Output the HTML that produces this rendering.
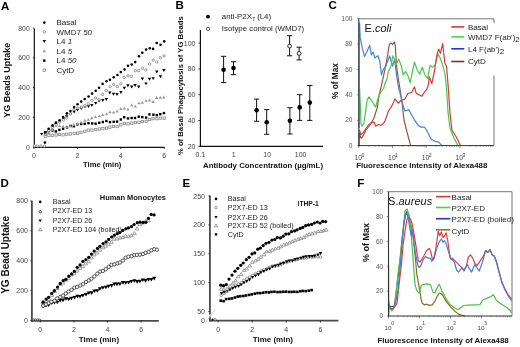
<!DOCTYPE html>
<html><head><meta charset="utf-8"><style>
html,body{margin:0;padding:0;background:#fff;width:520px;height:347px;overflow:hidden}
svg{display:block;filter:blur(0.3px)}
text{font-family:"Liberation Sans", sans-serif}
</style></head><body>
<svg width="520" height="347" viewBox="0 0 520 347">
<rect width="520" height="347" fill="#fff"/>
<text x="1.1" y="9.7" font-size="11.5" text-anchor="start" font-weight="bold" fill="#000"  style="">A</text><line x1="34.3" y1="28.5" x2="34.3" y2="147.5" stroke="#111" stroke-width="1.2"/><line x1="33.4" y1="147.4" x2="164.5" y2="147.4" stroke="#111" stroke-width="1.3"/><line x1="32.8" y1="147.0" x2="34.3" y2="147.0" stroke="#111" stroke-width="0.8"/><text x="29.7" y="149.5" font-size="6.8" text-anchor="end" font-weight="normal" fill="#444"  style="">0</text><line x1="32.8" y1="117.3" x2="34.3" y2="117.3" stroke="#111" stroke-width="0.8"/><text x="29.7" y="119.8" font-size="6.8" text-anchor="end" font-weight="normal" fill="#444"  style="">200</text><line x1="32.8" y1="87.6" x2="34.3" y2="87.6" stroke="#111" stroke-width="0.8"/><text x="29.7" y="90.1" font-size="6.8" text-anchor="end" font-weight="normal" fill="#444"  style="">400</text><line x1="32.8" y1="57.900000000000006" x2="34.3" y2="57.900000000000006" stroke="#111" stroke-width="0.8"/><text x="29.7" y="60.400000000000006" font-size="6.8" text-anchor="end" font-weight="normal" fill="#444"  style="">600</text><line x1="32.8" y1="28.200000000000003" x2="34.3" y2="28.200000000000003" stroke="#111" stroke-width="0.8"/><text x="29.7" y="30.700000000000003" font-size="6.8" text-anchor="end" font-weight="normal" fill="#444"  style="">800</text><line x1="34.0" y1="147" x2="34.0" y2="149" stroke="#111" stroke-width="0.8"/><text x="34.0" y="158" font-size="7" text-anchor="middle" font-weight="normal" fill="#444"  style="">0</text><line x1="77.4" y1="147" x2="77.4" y2="149" stroke="#111" stroke-width="0.8"/><text x="77.4" y="158" font-size="7" text-anchor="middle" font-weight="normal" fill="#444"  style="">2</text><line x1="120.8" y1="147" x2="120.8" y2="149" stroke="#111" stroke-width="0.8"/><text x="120.8" y="158" font-size="7" text-anchor="middle" font-weight="normal" fill="#444"  style="">4</text><line x1="164.2" y1="147" x2="164.2" y2="149" stroke="#111" stroke-width="0.8"/><text x="164.2" y="158" font-size="7" text-anchor="middle" font-weight="normal" fill="#444"  style="">6</text><text x="83.0" y="167.3" font-size="8" text-anchor="start" font-weight="bold" fill="#111" textLength="38.4" lengthAdjust="spacingAndGlyphs" style="">Time (min)</text><text transform="translate(10.1,80.3) rotate(-90)" font-size="9" font-weight="bold" text-anchor="middle" fill="#111">YG Beads Uptake</text><circle cx="44.3" cy="22.6" r="1.30" fill="#000"/><text x="56.5" y="25.400000000000002" font-size="8" text-anchor="start" font-weight="normal" fill="#222"  style="">Basal</text><circle cx="44.3" cy="31.8" r="1.20" fill="#fff" stroke="#777" stroke-width="0.75"/><text x="56.5" y="34.6" font-size="8" fill="#222">WMD7 <tspan font-style="italic">50</tspan></text><polygon points="42.6,40.1 46.0,40.1 44.3,43.0" fill="#000"/><text x="56.5" y="44.099999999999994" font-size="8" fill="#222">L4 <tspan font-style="italic">1</tspan></text><polygon points="42.6,52.2 46.0,52.2 44.3,49.3" fill="#999"/><text x="56.5" y="53.8" font-size="8" fill="#222">L4 <tspan font-style="italic">5</tspan></text><rect x="43.1" y="59.4" width="2.4" height="2.4" fill="#000"/><text x="56.5" y="63.4" font-size="8" fill="#222">L4 <tspan font-style="italic">50</tspan></text><rect x="43.1" y="69.0" width="2.3" height="2.3" fill="#fff" stroke="#888" stroke-width="0.8"/><text x="56.5" y="73.0" font-size="8" text-anchor="start" font-weight="normal" fill="#222"  style="">CytD</text><rect x="44.1" y="135.4" width="2.3" height="2.3" fill="#fff" stroke="#888" stroke-width="0.8"/><rect x="47.7" y="134.1" width="2.3" height="2.3" fill="#fff" stroke="#888" stroke-width="0.8"/><rect x="51.1" y="134.2" width="2.3" height="2.3" fill="#fff" stroke="#888" stroke-width="0.8"/><rect x="55.0" y="133.8" width="2.3" height="2.3" fill="#fff" stroke="#888" stroke-width="0.8"/><rect x="58.3" y="133.3" width="2.3" height="2.3" fill="#fff" stroke="#888" stroke-width="0.8"/><rect x="62.0" y="133.7" width="2.3" height="2.3" fill="#fff" stroke="#888" stroke-width="0.8"/><rect x="65.6" y="133.0" width="2.3" height="2.3" fill="#fff" stroke="#888" stroke-width="0.8"/><rect x="69.1" y="132.8" width="2.3" height="2.3" fill="#fff" stroke="#888" stroke-width="0.8"/><rect x="73.0" y="132.2" width="2.3" height="2.3" fill="#fff" stroke="#888" stroke-width="0.8"/><rect x="76.5" y="132.1" width="2.3" height="2.3" fill="#fff" stroke="#888" stroke-width="0.8"/><rect x="79.9" y="131.2" width="2.3" height="2.3" fill="#fff" stroke="#888" stroke-width="0.8"/><rect x="83.7" y="130.2" width="2.3" height="2.3" fill="#fff" stroke="#888" stroke-width="0.8"/><rect x="87.1" y="129.0" width="2.3" height="2.3" fill="#fff" stroke="#888" stroke-width="0.8"/><rect x="90.8" y="128.9" width="2.3" height="2.3" fill="#fff" stroke="#888" stroke-width="0.8"/><rect x="94.6" y="128.4" width="2.3" height="2.3" fill="#fff" stroke="#888" stroke-width="0.8"/><rect x="98.2" y="127.9" width="2.3" height="2.3" fill="#fff" stroke="#888" stroke-width="0.8"/><rect x="101.8" y="127.4" width="2.3" height="2.3" fill="#fff" stroke="#888" stroke-width="0.8"/><rect x="105.4" y="127.0" width="2.3" height="2.3" fill="#fff" stroke="#888" stroke-width="0.8"/><rect x="108.7" y="126.0" width="2.3" height="2.3" fill="#fff" stroke="#888" stroke-width="0.8"/><rect x="112.3" y="125.2" width="2.3" height="2.3" fill="#fff" stroke="#888" stroke-width="0.8"/><rect x="116.0" y="125.4" width="2.3" height="2.3" fill="#fff" stroke="#888" stroke-width="0.8"/><rect x="119.6" y="123.6" width="2.3" height="2.3" fill="#fff" stroke="#888" stroke-width="0.8"/><rect x="123.2" y="122.3" width="2.3" height="2.3" fill="#fff" stroke="#888" stroke-width="0.8"/><rect x="126.9" y="122.7" width="2.3" height="2.3" fill="#fff" stroke="#888" stroke-width="0.8"/><rect x="130.6" y="122.0" width="2.3" height="2.3" fill="#fff" stroke="#888" stroke-width="0.8"/><rect x="134.2" y="121.4" width="2.3" height="2.3" fill="#fff" stroke="#888" stroke-width="0.8"/><rect x="137.8" y="121.2" width="2.3" height="2.3" fill="#fff" stroke="#888" stroke-width="0.8"/><rect x="141.1" y="120.4" width="2.3" height="2.3" fill="#fff" stroke="#888" stroke-width="0.8"/><rect x="145.0" y="120.2" width="2.3" height="2.3" fill="#fff" stroke="#888" stroke-width="0.8"/><rect x="148.5" y="118.3" width="2.3" height="2.3" fill="#fff" stroke="#888" stroke-width="0.8"/><rect x="151.9" y="117.5" width="2.3" height="2.3" fill="#fff" stroke="#888" stroke-width="0.8"/><rect x="155.7" y="117.5" width="2.3" height="2.3" fill="#fff" stroke="#888" stroke-width="0.8"/><rect x="159.1" y="117.0" width="2.3" height="2.3" fill="#fff" stroke="#888" stroke-width="0.8"/><rect x="163.0" y="117.0" width="2.3" height="2.3" fill="#fff" stroke="#888" stroke-width="0.8"/><rect x="44.1" y="132.1" width="2.4" height="2.4" fill="#000"/><rect x="47.5" y="129.9" width="2.4" height="2.4" fill="#000"/><rect x="51.3" y="129.3" width="2.4" height="2.4" fill="#000"/><rect x="54.6" y="130.2" width="2.4" height="2.4" fill="#000"/><rect x="58.2" y="128.7" width="2.4" height="2.4" fill="#000"/><rect x="61.9" y="127.5" width="2.4" height="2.4" fill="#000"/><rect x="65.8" y="126.2" width="2.4" height="2.4" fill="#000"/><rect x="69.4" y="124.7" width="2.4" height="2.4" fill="#000"/><rect x="72.6" y="125.1" width="2.4" height="2.4" fill="#000"/><rect x="76.2" y="123.3" width="2.4" height="2.4" fill="#000"/><rect x="80.0" y="122.8" width="2.4" height="2.4" fill="#000"/><rect x="83.5" y="122.7" width="2.4" height="2.4" fill="#000"/><rect x="87.3" y="122.0" width="2.4" height="2.4" fill="#000"/><rect x="91.0" y="122.2" width="2.4" height="2.4" fill="#000"/><rect x="94.4" y="122.5" width="2.4" height="2.4" fill="#000"/><rect x="98.0" y="121.6" width="2.4" height="2.4" fill="#000"/><rect x="101.6" y="120.8" width="2.4" height="2.4" fill="#000"/><rect x="105.2" y="119.8" width="2.4" height="2.4" fill="#000"/><rect x="108.8" y="120.9" width="2.4" height="2.4" fill="#000"/><rect x="112.5" y="120.6" width="2.4" height="2.4" fill="#000"/><rect x="115.9" y="120.4" width="2.4" height="2.4" fill="#000"/><rect x="119.6" y="118.3" width="2.4" height="2.4" fill="#000"/><rect x="123.0" y="116.0" width="2.4" height="2.4" fill="#000"/><rect x="126.8" y="117.2" width="2.4" height="2.4" fill="#000"/><rect x="130.4" y="116.8" width="2.4" height="2.4" fill="#000"/><rect x="133.8" y="116.8" width="2.4" height="2.4" fill="#000"/><rect x="137.6" y="115.5" width="2.4" height="2.4" fill="#000"/><rect x="141.1" y="115.9" width="2.4" height="2.4" fill="#000"/><rect x="144.9" y="116.4" width="2.4" height="2.4" fill="#000"/><rect x="148.2" y="113.2" width="2.4" height="2.4" fill="#000"/><rect x="152.2" y="113.5" width="2.4" height="2.4" fill="#000"/><rect x="155.6" y="113.9" width="2.4" height="2.4" fill="#000"/><rect x="159.1" y="113.0" width="2.4" height="2.4" fill="#000"/><rect x="162.7" y="111.9" width="2.4" height="2.4" fill="#000"/><polygon points="43.5,136.0 46.9,136.0 45.2,133.1" fill="#999"/><polygon points="47.1,133.9 50.5,133.9 48.8,131.0" fill="#999"/><polygon points="50.5,131.1 53.9,131.1 52.2,128.2" fill="#999"/><polygon points="54.4,126.5 57.8,126.5 56.1,123.6" fill="#999"/><polygon points="57.8,126.9 61.2,126.9 59.5,124.0" fill="#999"/><polygon points="61.4,127.7 64.8,127.7 63.1,124.8" fill="#999"/><polygon points="65.1,127.9 68.5,127.9 66.8,125.0" fill="#999"/><polygon points="68.5,127.3 71.9,127.3 70.2,124.4" fill="#999"/><polygon points="72.2,126.0 75.6,126.0 73.9,123.1" fill="#999"/><polygon points="75.9,125.1 79.3,125.1 77.6,122.2" fill="#999"/><polygon points="79.4,123.5 82.8,123.5 81.1,120.6" fill="#999"/><polygon points="83.2,121.7 86.6,121.7 84.9,118.8" fill="#999"/><polygon points="86.7,120.8 90.1,120.8 88.4,117.9" fill="#999"/><polygon points="90.1,119.2 93.5,119.2 91.8,116.3" fill="#999"/><polygon points="93.8,118.1 97.2,118.1 95.5,115.3" fill="#999"/><polygon points="97.6,117.3 101.0,117.3 99.3,114.5" fill="#999"/><polygon points="101.0,116.1 104.4,116.1 102.7,113.2" fill="#999"/><polygon points="104.8,115.3 108.2,115.3 106.5,112.4" fill="#999"/><polygon points="108.2,113.2 111.6,113.2 109.9,110.3" fill="#999"/><polygon points="111.8,113.6 115.2,113.6 113.5,110.7" fill="#999"/><polygon points="115.4,112.4 118.8,112.4 117.1,109.5" fill="#999"/><polygon points="119.1,109.9 122.5,109.9 120.8,107.0" fill="#999"/><polygon points="122.7,109.5 126.1,109.5 124.4,106.7" fill="#999"/><polygon points="126.2,110.6 129.6,110.6 127.9,107.7" fill="#999"/><polygon points="130.1,106.5 133.5,106.5 131.8,103.6" fill="#999"/><polygon points="133.7,107.6 137.1,107.6 135.4,104.7" fill="#999"/><polygon points="137.3,104.3 140.7,104.3 139.0,101.4" fill="#999"/><polygon points="140.6,103.8 144.0,103.8 142.3,100.9" fill="#999"/><polygon points="144.4,101.8 147.8,101.8 146.1,99.0" fill="#999"/><polygon points="147.9,101.4 151.3,101.4 149.6,98.5" fill="#999"/><polygon points="151.4,102.9 154.8,102.9 153.1,100.0" fill="#999"/><polygon points="154.9,98.9 158.3,98.9 156.6,96.1" fill="#999"/><polygon points="158.6,98.7 162.0,98.7 160.3,95.8" fill="#999"/><polygon points="162.1,98.5 165.5,98.5 163.8,95.6" fill="#999"/><polygon points="40.0,132.9 43.4,132.9 41.7,135.8" fill="#000"/><polygon points="43.7,131.1 47.1,131.1 45.4,134.0" fill="#000"/><polygon points="47.1,129.3 50.5,129.3 48.8,132.2" fill="#000"/><polygon points="50.8,126.3 54.2,126.3 52.5,129.1" fill="#000"/><polygon points="54.2,123.1 57.6,123.1 55.9,126.0" fill="#000"/><polygon points="57.9,120.3 61.3,120.3 59.6,123.2" fill="#000"/><polygon points="61.7,117.5 65.1,117.5 63.4,120.4" fill="#000"/><polygon points="65.0,115.2 68.4,115.2 66.7,118.1" fill="#000"/><polygon points="68.8,112.7 72.2,112.7 70.5,115.5" fill="#000"/><polygon points="72.4,110.6 75.8,110.6 74.1,113.5" fill="#000"/><polygon points="75.8,108.7 79.2,108.7 77.5,111.6" fill="#000"/><polygon points="79.6,107.1 83.0,107.1 81.3,110.0" fill="#000"/><polygon points="83.2,105.4 86.6,105.4 84.9,108.3" fill="#000"/><polygon points="86.8,105.2 90.2,105.2 88.5,108.1" fill="#000"/><polygon points="90.1,104.1 93.5,104.1 91.8,107.0" fill="#000"/><polygon points="94.0,101.9 97.4,101.9 95.7,104.8" fill="#000"/><polygon points="97.4,99.7 100.8,99.7 99.1,102.6" fill="#000"/><polygon points="101.1,99.0 104.5,99.0 102.8,101.9" fill="#000"/><polygon points="104.7,98.0 108.1,98.0 106.4,100.9" fill="#000"/><polygon points="108.1,91.6 111.5,91.6 109.8,94.5" fill="#000"/><polygon points="111.8,92.8 115.2,92.8 113.5,95.7" fill="#000"/><polygon points="115.3,93.0 118.7,93.0 117.0,95.9" fill="#000"/><polygon points="119.2,91.0 122.6,91.0 120.9,93.9" fill="#000"/><polygon points="122.7,86.8 126.1,86.8 124.4,89.7" fill="#000"/><polygon points="126.2,84.3 129.6,84.3 127.9,87.2" fill="#000"/><polygon points="130.0,85.6 133.4,85.6 131.7,88.5" fill="#000"/><polygon points="133.4,84.0 136.8,84.0 135.1,86.9" fill="#000"/><polygon points="137.0,85.6 140.4,85.6 138.7,88.5" fill="#000"/><polygon points="140.7,77.5 144.1,77.5 142.4,80.4" fill="#000"/><polygon points="144.3,82.4 147.7,82.4 146.0,85.3" fill="#000"/><polygon points="147.8,77.8 151.2,77.8 149.5,80.7" fill="#000"/><polygon points="151.5,77.2 154.9,77.2 153.2,80.0" fill="#000"/><polygon points="155.1,70.6 158.5,70.6 156.8,73.5" fill="#000"/><polygon points="158.7,75.3 162.1,75.3 160.4,78.2" fill="#000"/><polygon points="162.2,69.1 165.6,69.1 163.9,71.9" fill="#000"/><circle cx="45.3" cy="133.8" r="1.20" fill="#fff" stroke="#777" stroke-width="0.75"/><circle cx="48.9" cy="130.4" r="1.20" fill="#fff" stroke="#777" stroke-width="0.75"/><circle cx="52.3" cy="127.4" r="1.20" fill="#fff" stroke="#777" stroke-width="0.75"/><circle cx="56.1" cy="124.9" r="1.20" fill="#fff" stroke="#777" stroke-width="0.75"/><circle cx="59.6" cy="121.9" r="1.20" fill="#fff" stroke="#777" stroke-width="0.75"/><circle cx="63.4" cy="119.9" r="1.20" fill="#fff" stroke="#777" stroke-width="0.75"/><circle cx="66.7" cy="118.0" r="1.20" fill="#fff" stroke="#777" stroke-width="0.75"/><circle cx="70.5" cy="113.9" r="1.20" fill="#fff" stroke="#777" stroke-width="0.75"/><circle cx="74.0" cy="109.3" r="1.20" fill="#fff" stroke="#777" stroke-width="0.75"/><circle cx="77.7" cy="107.9" r="1.20" fill="#fff" stroke="#777" stroke-width="0.75"/><circle cx="81.4" cy="107.0" r="1.20" fill="#fff" stroke="#777" stroke-width="0.75"/><circle cx="84.9" cy="105.6" r="1.20" fill="#fff" stroke="#777" stroke-width="0.75"/><circle cx="88.4" cy="103.7" r="1.20" fill="#fff" stroke="#777" stroke-width="0.75"/><circle cx="92.0" cy="100.4" r="1.20" fill="#fff" stroke="#777" stroke-width="0.75"/><circle cx="95.5" cy="97.9" r="1.20" fill="#fff" stroke="#777" stroke-width="0.75"/><circle cx="99.0" cy="99.4" r="1.20" fill="#fff" stroke="#777" stroke-width="0.75"/><circle cx="102.6" cy="94.4" r="1.20" fill="#fff" stroke="#777" stroke-width="0.75"/><circle cx="106.3" cy="90.5" r="1.20" fill="#fff" stroke="#777" stroke-width="0.75"/><circle cx="110.1" cy="86.7" r="1.20" fill="#fff" stroke="#777" stroke-width="0.75"/><circle cx="113.7" cy="84.5" r="1.20" fill="#fff" stroke="#777" stroke-width="0.75"/><circle cx="117.3" cy="86.6" r="1.20" fill="#fff" stroke="#777" stroke-width="0.75"/><circle cx="120.8" cy="83.8" r="1.20" fill="#fff" stroke="#777" stroke-width="0.75"/><circle cx="124.2" cy="77.5" r="1.20" fill="#fff" stroke="#777" stroke-width="0.75"/><circle cx="128.0" cy="75.7" r="1.20" fill="#fff" stroke="#777" stroke-width="0.75"/><circle cx="131.4" cy="76.4" r="1.20" fill="#fff" stroke="#777" stroke-width="0.75"/><circle cx="135.4" cy="70.7" r="1.20" fill="#fff" stroke="#777" stroke-width="0.75"/><circle cx="138.7" cy="70.6" r="1.20" fill="#fff" stroke="#777" stroke-width="0.75"/><circle cx="142.5" cy="68.4" r="1.20" fill="#fff" stroke="#777" stroke-width="0.75"/><circle cx="145.9" cy="69.9" r="1.20" fill="#fff" stroke="#777" stroke-width="0.75"/><circle cx="149.6" cy="63.9" r="1.20" fill="#fff" stroke="#777" stroke-width="0.75"/><circle cx="153.2" cy="60.1" r="1.20" fill="#fff" stroke="#777" stroke-width="0.75"/><circle cx="156.8" cy="62.0" r="1.20" fill="#fff" stroke="#777" stroke-width="0.75"/><circle cx="160.4" cy="57.6" r="1.20" fill="#fff" stroke="#777" stroke-width="0.75"/><circle cx="164.0" cy="55.9" r="1.20" fill="#fff" stroke="#777" stroke-width="0.75"/><circle cx="45.2" cy="132.4" r="1.30" fill="#000"/><circle cx="48.7" cy="128.8" r="1.30" fill="#000"/><circle cx="52.5" cy="125.4" r="1.30" fill="#000"/><circle cx="56.0" cy="122.5" r="1.30" fill="#000"/><circle cx="59.7" cy="120.2" r="1.30" fill="#000"/><circle cx="63.1" cy="117.1" r="1.30" fill="#000"/><circle cx="66.9" cy="113.4" r="1.30" fill="#000"/><circle cx="70.4" cy="111.0" r="1.30" fill="#000"/><circle cx="74.1" cy="107.1" r="1.30" fill="#000"/><circle cx="77.5" cy="104.2" r="1.30" fill="#000"/><circle cx="81.2" cy="101.6" r="1.30" fill="#000"/><circle cx="84.7" cy="99.0" r="1.30" fill="#000"/><circle cx="88.6" cy="96.5" r="1.30" fill="#000"/><circle cx="92.1" cy="93.6" r="1.30" fill="#000"/><circle cx="95.7" cy="90.8" r="1.30" fill="#000"/><circle cx="99.1" cy="87.8" r="1.30" fill="#000"/><circle cx="102.6" cy="83.9" r="1.30" fill="#000"/><circle cx="106.4" cy="81.3" r="1.30" fill="#000"/><circle cx="109.9" cy="79.7" r="1.30" fill="#000"/><circle cx="113.7" cy="77.2" r="1.30" fill="#000"/><circle cx="117.4" cy="75.0" r="1.30" fill="#000"/><circle cx="120.8" cy="72.1" r="1.30" fill="#000"/><circle cx="124.5" cy="69.5" r="1.30" fill="#000"/><circle cx="128.0" cy="65.8" r="1.30" fill="#000"/><circle cx="131.7" cy="64.5" r="1.30" fill="#000"/><circle cx="135.2" cy="62.1" r="1.30" fill="#000"/><circle cx="139.0" cy="56.2" r="1.30" fill="#000"/><circle cx="142.3" cy="52.8" r="1.30" fill="#000"/><circle cx="146.1" cy="49.6" r="1.30" fill="#000"/><circle cx="149.8" cy="48.3" r="1.30" fill="#000"/><circle cx="153.1" cy="48.9" r="1.30" fill="#000"/><circle cx="156.7" cy="43.0" r="1.30" fill="#000"/><circle cx="160.5" cy="44.8" r="1.30" fill="#000"/><circle cx="164.2" cy="41.4" r="1.30" fill="#000"/><circle cx="34.6" cy="146.0" r="1.20" fill="#fff" stroke="#777" stroke-width="0.75"/><circle cx="37.4" cy="146.0" r="1.20" fill="#fff" stroke="#777" stroke-width="0.75"/><circle cx="40.9" cy="146.0" r="1.20" fill="#fff" stroke="#777" stroke-width="0.75"/><circle cx="44.5" cy="146.0" r="1.20" fill="#fff" stroke="#777" stroke-width="0.75"/><circle cx="44.9" cy="142.6" r="1.30" fill="#000"/><text x="175.4" y="9.0" font-size="11.5" text-anchor="start" font-weight="bold" fill="#000"  style="">B</text><line x1="200.4" y1="30" x2="200.4" y2="146.9" stroke="#111" stroke-width="1.2"/><line x1="199.8" y1="146.3" x2="323" y2="146.3" stroke="#111" stroke-width="1.2"/><line x1="198.4" y1="146.3" x2="200.4" y2="146.3" stroke="#111" stroke-width="0.8"/><text x="195.5" y="148.8" font-size="7" text-anchor="end" font-weight="normal" fill="#444"  style="">20</text><line x1="198.4" y1="120.50000000000001" x2="200.4" y2="120.50000000000001" stroke="#111" stroke-width="0.8"/><text x="195.5" y="123.00000000000001" font-size="7" text-anchor="end" font-weight="normal" fill="#444"  style="">40</text><line x1="198.4" y1="94.70000000000002" x2="200.4" y2="94.70000000000002" stroke="#111" stroke-width="0.8"/><text x="195.5" y="97.20000000000002" font-size="7" text-anchor="end" font-weight="normal" fill="#444"  style="">60</text><line x1="198.4" y1="68.9" x2="200.4" y2="68.9" stroke="#111" stroke-width="0.8"/><text x="195.5" y="71.4" font-size="7" text-anchor="end" font-weight="normal" fill="#444"  style="">80</text><line x1="198.4" y1="43.10000000000001" x2="200.4" y2="43.10000000000001" stroke="#111" stroke-width="0.8"/><text x="195.5" y="45.60000000000001" font-size="7" text-anchor="end" font-weight="normal" fill="#444"  style="">100</text><text x="200.4" y="157.2" font-size="7" text-anchor="middle" font-weight="normal" fill="#444"  style="">0.1</text><text x="233.8" y="157.2" font-size="7" text-anchor="middle" font-weight="normal" fill="#444"  style="">1</text><text x="267.2" y="157.2" font-size="7" text-anchor="middle" font-weight="normal" fill="#444"  style="">10</text><text x="300.6" y="157.2" font-size="7" text-anchor="middle" font-weight="normal" fill="#444"  style="">100</text><text x="203" y="168.4" font-size="8" text-anchor="start" font-weight="bold" fill="#111" textLength="120" lengthAdjust="spacingAndGlyphs" style="">Antibody Concentration (µg/mL)</text><text transform="translate(182.6,85.7) rotate(-90)" font-size="7.7" font-weight="bold" text-anchor="middle" fill="#111">% of Basal Phagocytosis of YG Beads</text><circle cx="208.0" cy="16.6" r="1.95" fill="#000"/><text x="221.8" y="18.9" font-size="7.85" fill="#222">anti-P2X<tspan font-size="5.5" dy="2.2">7</tspan><tspan dy="-2.2"> (L4)</tspan></text><circle cx="208.0" cy="28.9" r="1.69" fill="#fff" stroke="#222" stroke-width="0.75"/><text x="221.8" y="31.3" font-size="7.85" text-anchor="start" font-weight="normal" fill="#222"  style="">Isotype control (WMD7)</text><line x1="223.6" y1="56.3" x2="223.6" y2="82.6" stroke="#111" stroke-width="1.0"/><line x1="221.0" y1="56.3" x2="226.2" y2="56.3" stroke="#111" stroke-width="1.0"/><line x1="221.0" y1="82.6" x2="226.2" y2="82.6" stroke="#111" stroke-width="1.0"/><circle cx="223.6" cy="69.7" r="2.3" fill="#000"/><line x1="233.5" y1="61.7" x2="233.5" y2="74.7" stroke="#111" stroke-width="1.0"/><line x1="230.9" y1="61.7" x2="236.1" y2="61.7" stroke="#111" stroke-width="1.0"/><line x1="230.9" y1="74.7" x2="236.1" y2="74.7" stroke="#111" stroke-width="1.0"/><circle cx="233.5" cy="68.1" r="2.3" fill="#000"/><line x1="256.6" y1="99.1" x2="256.6" y2="121.3" stroke="#111" stroke-width="1.0"/><line x1="254.00000000000003" y1="99.1" x2="259.20000000000005" y2="99.1" stroke="#111" stroke-width="1.0"/><line x1="254.00000000000003" y1="121.3" x2="259.20000000000005" y2="121.3" stroke="#111" stroke-width="1.0"/><circle cx="256.6" cy="110.2" r="2.3" fill="#000"/><line x1="266.7" y1="109.6" x2="266.7" y2="134.3" stroke="#111" stroke-width="1.0"/><line x1="264.09999999999997" y1="109.6" x2="269.3" y2="109.6" stroke="#111" stroke-width="1.0"/><line x1="264.09999999999997" y1="134.3" x2="269.3" y2="134.3" stroke="#111" stroke-width="1.0"/><circle cx="266.7" cy="122.3" r="2.3" fill="#000"/><line x1="289.9" y1="107.7" x2="289.9" y2="134" stroke="#111" stroke-width="1.0"/><line x1="287.29999999999995" y1="107.7" x2="292.5" y2="107.7" stroke="#111" stroke-width="1.0"/><line x1="287.29999999999995" y1="134" x2="292.5" y2="134" stroke="#111" stroke-width="1.0"/><circle cx="289.9" cy="120.7" r="2.3" fill="#000"/><line x1="299.7" y1="94.7" x2="299.7" y2="120.4" stroke="#111" stroke-width="1.0"/><line x1="297.09999999999997" y1="94.7" x2="302.3" y2="94.7" stroke="#111" stroke-width="1.0"/><line x1="297.09999999999997" y1="120.4" x2="302.3" y2="120.4" stroke="#111" stroke-width="1.0"/><circle cx="299.7" cy="107.4" r="2.3" fill="#000"/><line x1="309.8" y1="85.5" x2="309.8" y2="120.4" stroke="#111" stroke-width="1.0"/><line x1="307.2" y1="85.5" x2="312.40000000000003" y2="85.5" stroke="#111" stroke-width="1.0"/><line x1="307.2" y1="120.4" x2="312.40000000000003" y2="120.4" stroke="#111" stroke-width="1.0"/><circle cx="309.8" cy="102.6" r="2.3" fill="#000"/><line x1="289.6" y1="35.7" x2="289.6" y2="55.8" stroke="#111" stroke-width="1.0"/><line x1="287.0" y1="35.7" x2="292.20000000000005" y2="35.7" stroke="#111" stroke-width="1.0"/><line x1="287.0" y1="55.8" x2="292.20000000000005" y2="55.8" stroke="#111" stroke-width="1.0"/><circle cx="289.6" cy="46.1" r="1.9" fill="#fff" stroke="#111" stroke-width="0.9"/><line x1="299.1" y1="47.2" x2="299.1" y2="59.9" stroke="#111" stroke-width="1.0"/><line x1="296.5" y1="47.2" x2="301.70000000000005" y2="47.2" stroke="#111" stroke-width="1.0"/><line x1="296.5" y1="59.9" x2="301.70000000000005" y2="59.9" stroke="#111" stroke-width="1.0"/><circle cx="299.1" cy="53.5" r="1.9" fill="#fff" stroke="#111" stroke-width="0.9"/><text x="328.4" y="9.1" font-size="11.5" text-anchor="start" font-weight="bold" fill="#000"  style="">C</text><line x1="358.8" y1="18.8" x2="494" y2="18.8" stroke="#666" stroke-width="0.9"/><line x1="494" y1="18.8" x2="494" y2="23.4" stroke="#666" stroke-width="0.9"/><line x1="357" y1="145.6" x2="358.8" y2="145.6" stroke="#666" stroke-width="0.7"/><text x="352.4" y="147.79999999999998" font-size="6.5" text-anchor="end" font-weight="normal" fill="#555"  style="">0</text><line x1="357" y1="120.19999999999999" x2="358.8" y2="120.19999999999999" stroke="#666" stroke-width="0.7"/><text x="352.4" y="122.39999999999999" font-size="6.5" text-anchor="end" font-weight="normal" fill="#555"  style="">20</text><line x1="357" y1="94.8" x2="358.8" y2="94.8" stroke="#666" stroke-width="0.7"/><text x="352.4" y="97.0" font-size="6.5" text-anchor="end" font-weight="normal" fill="#555"  style="">40</text><line x1="357" y1="69.39999999999999" x2="358.8" y2="69.39999999999999" stroke="#666" stroke-width="0.7"/><text x="352.4" y="71.6" font-size="6.5" text-anchor="end" font-weight="normal" fill="#555"  style="">60</text><line x1="357" y1="44.0" x2="358.8" y2="44.0" stroke="#666" stroke-width="0.7"/><text x="352.4" y="46.2" font-size="6.5" text-anchor="end" font-weight="normal" fill="#555"  style="">80</text><line x1="357" y1="18.599999999999994" x2="358.8" y2="18.599999999999994" stroke="#666" stroke-width="0.7"/><text x="352.4" y="20.799999999999994" font-size="6.5" text-anchor="end" font-weight="normal" fill="#555"  style="">100</text><text x="358.2" y="160" font-size="6.8" fill="#444" text-anchor="middle">10</text><text x="361.4" y="156.6" font-size="5.2" fill="#444">0</text><text x="391.9" y="160" font-size="6.8" fill="#444" text-anchor="middle">10</text><text x="395.1" y="156.6" font-size="5.2" fill="#444">1</text><text x="425.6" y="160" font-size="6.8" fill="#444" text-anchor="middle">10</text><text x="428.8" y="156.6" font-size="5.2" fill="#444">2</text><text x="459.3" y="160" font-size="6.8" fill="#444" text-anchor="middle">10</text><text x="462.5" y="156.6" font-size="5.2" fill="#444">3</text><line x1="368.9447108538762" y1="145.6" x2="368.9447108538762" y2="147" stroke="#666" stroke-width="0.5"/><line x1="374.87898628405264" y1="145.6" x2="374.87898628405264" y2="147" stroke="#666" stroke-width="0.5"/><line x1="379.08942170775236" y1="145.6" x2="379.08942170775236" y2="147" stroke="#666" stroke-width="0.5"/><line x1="382.3552891461238" y1="145.6" x2="382.3552891461238" y2="147" stroke="#666" stroke-width="0.5"/><line x1="385.0236971379288" y1="145.6" x2="385.0236971379288" y2="147" stroke="#666" stroke-width="0.5"/><line x1="387.2798039484805" y1="145.6" x2="387.2798039484805" y2="147" stroke="#666" stroke-width="0.5"/><line x1="389.2341325616285" y1="145.6" x2="389.2341325616285" y2="147" stroke="#666" stroke-width="0.5"/><line x1="390.9579725681053" y1="145.6" x2="390.9579725681053" y2="147" stroke="#666" stroke-width="0.5"/><line x1="358.8" y1="145.6" x2="358.8" y2="148" stroke="#666" stroke-width="0.7"/><line x1="402.6447108538762" y1="145.6" x2="402.6447108538762" y2="147" stroke="#666" stroke-width="0.5"/><line x1="408.57898628405263" y1="145.6" x2="408.57898628405263" y2="147" stroke="#666" stroke-width="0.5"/><line x1="412.78942170775235" y1="145.6" x2="412.78942170775235" y2="147" stroke="#666" stroke-width="0.5"/><line x1="416.05528914612387" y1="145.6" x2="416.05528914612387" y2="147" stroke="#666" stroke-width="0.5"/><line x1="418.7236971379288" y1="145.6" x2="418.7236971379288" y2="147" stroke="#666" stroke-width="0.5"/><line x1="420.9798039484805" y1="145.6" x2="420.9798039484805" y2="147" stroke="#666" stroke-width="0.5"/><line x1="422.93413256162853" y1="145.6" x2="422.93413256162853" y2="147" stroke="#666" stroke-width="0.5"/><line x1="424.65797256810527" y1="145.6" x2="424.65797256810527" y2="147" stroke="#666" stroke-width="0.5"/><line x1="392.5" y1="145.6" x2="392.5" y2="148" stroke="#666" stroke-width="0.7"/><line x1="436.34471085387617" y1="145.6" x2="436.34471085387617" y2="147" stroke="#666" stroke-width="0.5"/><line x1="442.2789862840526" y1="145.6" x2="442.2789862840526" y2="147" stroke="#666" stroke-width="0.5"/><line x1="446.48942170775234" y1="145.6" x2="446.48942170775234" y2="147" stroke="#666" stroke-width="0.5"/><line x1="449.75528914612386" y1="145.6" x2="449.75528914612386" y2="147" stroke="#666" stroke-width="0.5"/><line x1="452.4236971379288" y1="145.6" x2="452.4236971379288" y2="147" stroke="#666" stroke-width="0.5"/><line x1="454.67980394848047" y1="145.6" x2="454.67980394848047" y2="147" stroke="#666" stroke-width="0.5"/><line x1="456.6341325616285" y1="145.6" x2="456.6341325616285" y2="147" stroke="#666" stroke-width="0.5"/><line x1="458.35797256810525" y1="145.6" x2="458.35797256810525" y2="147" stroke="#666" stroke-width="0.5"/><line x1="426.20000000000005" y1="145.6" x2="426.20000000000005" y2="148" stroke="#666" stroke-width="0.7"/><line x1="470.04471085387615" y1="145.6" x2="470.04471085387615" y2="147" stroke="#666" stroke-width="0.5"/><line x1="475.97898628405267" y1="145.6" x2="475.97898628405267" y2="147" stroke="#666" stroke-width="0.5"/><line x1="480.18942170775233" y1="145.6" x2="480.18942170775233" y2="147" stroke="#666" stroke-width="0.5"/><line x1="483.45528914612385" y1="145.6" x2="483.45528914612385" y2="147" stroke="#666" stroke-width="0.5"/><line x1="486.12369713792884" y1="145.6" x2="486.12369713792884" y2="147" stroke="#666" stroke-width="0.5"/><line x1="488.37980394848046" y1="145.6" x2="488.37980394848046" y2="147" stroke="#666" stroke-width="0.5"/><line x1="490.3341325616285" y1="145.6" x2="490.3341325616285" y2="147" stroke="#666" stroke-width="0.5"/><line x1="492.05797256810524" y1="145.6" x2="492.05797256810524" y2="147" stroke="#666" stroke-width="0.5"/><line x1="459.90000000000003" y1="145.6" x2="459.90000000000003" y2="148" stroke="#666" stroke-width="0.7"/><text x="356.2" y="167.5" font-size="8" text-anchor="start" font-weight="bold" fill="#111" textLength="131.2" lengthAdjust="spacingAndGlyphs" style="">Fluorescence Intensity of Alexa488</text><text transform="translate(338.3,81) rotate(-90)" font-size="8.3" font-weight="bold" text-anchor="middle" fill="#111">% of Max</text><text x="364.6" y="32.2" font-size="11" fill="#111">E.<tspan font-style="italic">coli</tspan></text><polyline points="359.2,145.3 359.3,133.1 361.0,138.3 362.8,136.6 366.0,130.0 370.0,125.0 374.0,118.0 377.4,107.2 379.1,95.2 381.5,85.2 384.9,69.6 387.5,55.8 389.3,44.5 391.0,42.8 392.7,44.5 394.5,41.9 395.3,45.4 396.2,61.0 397.0,69.6 398.8,81.8 400.5,92.1 402.0,102.0 404.0,120.0 407.0,132.0 410.6,145.3" fill="none" stroke="#94583a" stroke-width="1.2" stroke-linejoin="round"/><polyline points="359.2,128.0 359.2,23.0 359.6,23.6 360.2,37.5 361.9,46.1 364.5,56.5 367.1,51.3 369.7,45.3 371.4,54.8 373.2,52.2 374.9,58.2 376.6,56.5 378.0,55.8 379.7,61.0 381.5,74.8 383.2,69.6 385.8,66.2 388.4,59.2 389.8,55.8 391.0,61.0 392.7,66.2 394.5,59.2 397.0,78.3 398.8,88.7 400.5,94.7 402.6,104.3 404.8,110.8 407.7,110.1 408.8,109.4 410.6,113.1 414.4,119.7 418.1,125.3 420.9,127.2 424.7,127.2 427.5,131.9 431.3,139.4 435.0,141.3 438.8,142.2 441.6,145.3" fill="none" stroke="#4a86cc" stroke-width="1.2" stroke-linejoin="round"/><polyline points="359.6,88.0 360.3,105.0 361.0,123.6 361.9,126.2 363.6,124.5 365.3,114.1 367.1,100.3 368.8,96.9 371.4,100.3 374.0,104.7 375.7,107.2 377.4,100.3 379.1,95.2 381.0,92.0 383.5,88.5 384.9,83.5 387.0,79.0 388.4,71.4 391.0,66.2 392.7,55.8 394.5,59.2 396.2,64.4 398.8,59.2 401.4,66.2 403.1,74.8 405.7,71.4 408.3,76.6 410.2,82.7 412.8,69.8 414.5,62.0 417.1,69.8 419.7,74.1 422.3,67.2 424.9,75.0 427.5,78.4 430.1,65.4 432.7,67.2 435.3,64.6 437.9,54.2 439.6,56.8 442.2,63.7 444.8,73.2 446.3,85.0 448.1,113.1 450.0,128.1 453.8,137.5 457.5,145.3" fill="none" stroke="#48c848" stroke-width="1.2" stroke-linejoin="round"/><polyline points="359.3,129.7 361.0,134.8 362.8,133.1 365.3,129.7 368.8,124.5 371.4,122.8 374.0,121.9 375.7,126.2 378.3,124.5 380.9,125.3 383.4,123.6 385.3,120.2 388.2,111.5 391.1,107.2 394.0,101.4 394.8,98.9 398.2,103.2 401.7,99.8 405.0,99.1 407.8,93.4 411.6,92.5 414.4,86.9 416.3,93.4 421.9,96.3 424.7,91.6 426.6,89.7 428.4,85.0 429.2,76.7 431.8,83.6 434.4,71.5 437.0,54.2 438.7,49.0 440.4,53.3 442.7,43.5 444.8,62.9 446.5,66.3 448.1,85.0 450.0,113.1 451.9,130.0 456.6,137.5 460.3,145.3" fill="none" stroke="#dc3a3a" stroke-width="1.2" stroke-linejoin="round"/><line x1="358.8" y1="18.8" x2="358.8" y2="146.2" stroke="#333" stroke-width="1.1"/><line x1="358.2" y1="145.6" x2="494" y2="145.6" stroke="#333" stroke-width="1.0"/><rect x="449" y="22" width="44.5" height="45" fill="#fff"/><line x1="451.3" y1="26.9" x2="464.3" y2="26.9" stroke="#e03535" stroke-width="1.6"/><text x="468" y="29.599999999999998" font-size="8" text-anchor="start" font-weight="normal" fill="#222"  style="">Basal</text><line x1="451.3" y1="36.9" x2="464.3" y2="36.9" stroke="#3cdc3c" stroke-width="1.6"/><text x="468" y="39.6" font-size="8" fill="#222">WMD7 F(ab')<tspan dy="2.4" font-size="8">2</tspan></text><line x1="451.3" y1="48.8" x2="464.3" y2="48.8" stroke="#2233dd" stroke-width="1.6"/><text x="468" y="51.5" font-size="8" fill="#222">L4 F(ab')<tspan dy="2.4" font-size="8">2</tspan></text><line x1="451.3" y1="61.5" x2="464.3" y2="61.5" stroke="#8b2a2a" stroke-width="1.6"/><text x="468" y="64.2" font-size="8" text-anchor="start" font-weight="normal" fill="#222"  style="">CytD</text><line x1="494" y1="75.5" x2="494" y2="145.6" stroke="#666" stroke-width="0.9"/><text x="0.5" y="187.1" font-size="11.5" text-anchor="start" font-weight="bold" fill="#000"  style="">D</text><line x1="31.9" y1="200.8" x2="31.9" y2="321.8" stroke="#4a4a4a" stroke-width="1.8"/><line x1="31" y1="320.9" x2="158.8" y2="320.9" stroke="#4a4a4a" stroke-width="1.8"/><line x1="30.3" y1="320.5" x2="31.6" y2="320.5" stroke="#111" stroke-width="0.8"/><text x="28" y="323.0" font-size="7" text-anchor="end" font-weight="normal" fill="#444"  style="">0</text><line x1="30.3" y1="290.62" x2="31.6" y2="290.62" stroke="#111" stroke-width="0.8"/><text x="28" y="293.12" font-size="7" text-anchor="end" font-weight="normal" fill="#444"  style="">200</text><line x1="30.3" y1="260.74" x2="31.6" y2="260.74" stroke="#111" stroke-width="0.8"/><text x="28" y="263.24" font-size="7" text-anchor="end" font-weight="normal" fill="#444"  style="">400</text><line x1="30.3" y1="230.86" x2="31.6" y2="230.86" stroke="#111" stroke-width="0.8"/><text x="28" y="233.36" font-size="7" text-anchor="end" font-weight="normal" fill="#444"  style="">600</text><line x1="30.3" y1="200.98" x2="31.6" y2="200.98" stroke="#111" stroke-width="0.8"/><text x="28" y="203.48" font-size="7" text-anchor="end" font-weight="normal" fill="#444"  style="">800</text><line x1="40.3" y1="320.5" x2="40.3" y2="322.5" stroke="#111" stroke-width="0.8"/><text x="40.3" y="332" font-size="7" text-anchor="middle" font-weight="normal" fill="#444"  style="">0</text><line x1="73.9" y1="320.5" x2="73.9" y2="322.5" stroke="#111" stroke-width="0.8"/><text x="73.9" y="332" font-size="7" text-anchor="middle" font-weight="normal" fill="#444"  style="">2</text><line x1="107.5" y1="320.5" x2="107.5" y2="322.5" stroke="#111" stroke-width="0.8"/><text x="107.5" y="332" font-size="7" text-anchor="middle" font-weight="normal" fill="#444"  style="">4</text><line x1="141.10000000000002" y1="320.5" x2="141.10000000000002" y2="322.5" stroke="#111" stroke-width="0.8"/><text x="141.10000000000002" y="332" font-size="7" text-anchor="middle" font-weight="normal" fill="#444"  style="">6</text><text x="78.8" y="342.3" font-size="8" text-anchor="start" font-weight="bold" fill="#111"  style="">Time (min)</text><text transform="translate(9.3,254.9) rotate(-90)" font-size="10" font-weight="bold" text-anchor="middle" fill="#111">YG Bead Uptake</text><text x="99.8" y="200.2" font-size="7.6" text-anchor="start" font-weight="bold" fill="#111" textLength="66.2" lengthAdjust="spacingAndGlyphs" style="">Human Monocytes</text><circle cx="40.2" cy="201.9" r="1.30" fill="#000"/><text x="52.8" y="204" font-size="7.1" text-anchor="start" font-weight="normal" fill="#222"  style="">Basal</text><circle cx="40.2" cy="211.8" r="1.25" fill="#fff" stroke="#222" stroke-width="0.75"/><text x="52.8" y="213.2" font-size="7.1" text-anchor="start" font-weight="normal" fill="#222"  style="">P2X7-ED 13</text><polygon points="38.5,219.4 41.9,219.4 40.2,222.3" fill="#000"/><text x="52.8" y="222.7" font-size="7.1" text-anchor="start" font-weight="normal" fill="#222"  style="">P2X7-ED 26</text><polygon points="38.5,230.8 41.9,230.8 40.2,227.9" fill="#fff" stroke="#888" stroke-width="0.8"/><text x="52.8" y="231.7" font-size="7.1" text-anchor="start" font-weight="normal" fill="#222"  style="">P2X7-ED 104 (boiled)</text><polygon points="41.1,304.8 45.4,304.8 43.2,308.4" fill="#000"/><polygon points="43.8,303.8 48.0,303.8 45.9,307.4" fill="#000"/><polygon points="46.5,303.4 50.8,303.4 48.6,307.0" fill="#000"/><polygon points="49.7,301.3 53.9,301.3 51.8,305.0" fill="#000"/><polygon points="52.3,301.0 56.6,301.0 54.4,304.6" fill="#000"/><polygon points="55.3,300.7 59.5,300.7 57.4,304.3" fill="#000"/><polygon points="58.0,299.0 62.3,299.0 60.1,302.6" fill="#000"/><polygon points="60.9,298.6 65.2,298.6 63.0,302.2" fill="#000"/><polygon points="63.8,297.2 68.1,297.2 65.9,300.8" fill="#000"/><polygon points="66.6,297.7 70.8,297.7 68.7,301.3" fill="#000"/><polygon points="69.3,296.7 73.6,296.7 71.4,300.3" fill="#000"/><polygon points="72.4,295.9 76.6,295.9 74.5,299.5" fill="#000"/><polygon points="75.3,294.8 79.6,294.8 77.5,298.4" fill="#000"/><polygon points="77.9,294.9 82.1,294.9 80.0,298.6" fill="#000"/><polygon points="80.8,293.9 85.1,293.9 82.9,297.5" fill="#000"/><polygon points="83.8,292.9 88.1,292.9 86.0,296.5" fill="#000"/><polygon points="86.6,291.4 90.9,291.4 88.8,295.0" fill="#000"/><polygon points="89.5,291.3 93.8,291.3 91.7,294.9" fill="#000"/><polygon points="92.4,289.4 96.6,289.4 94.5,293.0" fill="#000"/><polygon points="95.2,289.2 99.4,289.2 97.3,292.8" fill="#000"/><polygon points="97.8,287.2 102.1,287.2 99.9,290.8" fill="#000"/><polygon points="100.8,286.2 105.0,286.2 102.9,289.8" fill="#000"/><polygon points="103.7,285.7 108.0,285.7 105.9,289.3" fill="#000"/><polygon points="106.4,284.7 110.6,284.7 108.5,288.3" fill="#000"/><polygon points="109.4,284.1 113.7,284.1 111.6,287.7" fill="#000"/><polygon points="112.4,282.6 116.6,282.6 114.5,286.2" fill="#000"/><polygon points="114.9,282.6 119.2,282.6 117.0,286.2" fill="#000"/><polygon points="117.8,282.4 122.0,282.4 119.9,286.0" fill="#000"/><polygon points="120.9,281.1 125.1,281.1 123.0,284.7" fill="#000"/><polygon points="123.6,281.2 127.9,281.2 125.8,284.8" fill="#000"/><polygon points="126.5,280.9 130.7,280.9 128.6,284.5" fill="#000"/><polygon points="129.2,280.0 133.4,280.0 131.3,283.6" fill="#000"/><polygon points="132.3,279.3 136.5,279.3 134.4,282.9" fill="#000"/><polygon points="135.0,280.0 139.3,280.0 137.2,283.7" fill="#000"/><polygon points="137.8,279.7 142.1,279.7 139.9,283.3" fill="#000"/><polygon points="140.7,278.5 144.9,278.5 142.8,282.1" fill="#000"/><polygon points="143.4,279.1 147.6,279.1 145.5,282.7" fill="#000"/><polygon points="146.3,278.1 150.6,278.1 148.4,281.8" fill="#000"/><polygon points="149.2,278.0 153.5,278.0 151.3,281.6" fill="#000"/><polygon points="152.1,276.8 156.3,276.8 154.2,280.4" fill="#000"/><circle cx="43.2" cy="305.7" r="1.69" fill="#fff" stroke="#222" stroke-width="0.75"/><circle cx="46.1" cy="304.4" r="1.69" fill="#fff" stroke="#222" stroke-width="0.75"/><circle cx="48.7" cy="303.1" r="1.69" fill="#fff" stroke="#222" stroke-width="0.75"/><circle cx="51.5" cy="301.8" r="1.69" fill="#fff" stroke="#222" stroke-width="0.75"/><circle cx="54.6" cy="300.9" r="1.69" fill="#fff" stroke="#222" stroke-width="0.75"/><circle cx="57.2" cy="298.4" r="1.69" fill="#fff" stroke="#222" stroke-width="0.75"/><circle cx="60.3" cy="296.9" r="1.69" fill="#fff" stroke="#222" stroke-width="0.75"/><circle cx="63.1" cy="295.6" r="1.69" fill="#fff" stroke="#222" stroke-width="0.75"/><circle cx="65.8" cy="293.5" r="1.69" fill="#fff" stroke="#222" stroke-width="0.75"/><circle cx="68.6" cy="291.5" r="1.69" fill="#fff" stroke="#222" stroke-width="0.75"/><circle cx="71.6" cy="289.9" r="1.69" fill="#fff" stroke="#222" stroke-width="0.75"/><circle cx="74.4" cy="287.7" r="1.69" fill="#fff" stroke="#222" stroke-width="0.75"/><circle cx="77.1" cy="286.9" r="1.69" fill="#fff" stroke="#222" stroke-width="0.75"/><circle cx="80.3" cy="285.5" r="1.69" fill="#fff" stroke="#222" stroke-width="0.75"/><circle cx="83.0" cy="284.2" r="1.69" fill="#fff" stroke="#222" stroke-width="0.75"/><circle cx="85.9" cy="282.0" r="1.69" fill="#fff" stroke="#222" stroke-width="0.75"/><circle cx="88.9" cy="280.4" r="1.69" fill="#fff" stroke="#222" stroke-width="0.75"/><circle cx="91.5" cy="278.7" r="1.69" fill="#fff" stroke="#222" stroke-width="0.75"/><circle cx="94.4" cy="276.4" r="1.69" fill="#fff" stroke="#222" stroke-width="0.75"/><circle cx="97.3" cy="273.7" r="1.69" fill="#fff" stroke="#222" stroke-width="0.75"/><circle cx="100.2" cy="271.5" r="1.69" fill="#fff" stroke="#222" stroke-width="0.75"/><circle cx="102.9" cy="270.9" r="1.69" fill="#fff" stroke="#222" stroke-width="0.75"/><circle cx="105.8" cy="269.2" r="1.69" fill="#fff" stroke="#222" stroke-width="0.75"/><circle cx="108.7" cy="266.9" r="1.69" fill="#fff" stroke="#222" stroke-width="0.75"/><circle cx="111.5" cy="264.8" r="1.69" fill="#fff" stroke="#222" stroke-width="0.75"/><circle cx="114.3" cy="264.4" r="1.69" fill="#fff" stroke="#222" stroke-width="0.75"/><circle cx="117.4" cy="263.3" r="1.69" fill="#fff" stroke="#222" stroke-width="0.75"/><circle cx="119.9" cy="262.5" r="1.69" fill="#fff" stroke="#222" stroke-width="0.75"/><circle cx="122.9" cy="260.5" r="1.69" fill="#fff" stroke="#222" stroke-width="0.75"/><circle cx="125.7" cy="257.7" r="1.69" fill="#fff" stroke="#222" stroke-width="0.75"/><circle cx="128.4" cy="256.7" r="1.69" fill="#fff" stroke="#222" stroke-width="0.75"/><circle cx="131.6" cy="256.1" r="1.69" fill="#fff" stroke="#222" stroke-width="0.75"/><circle cx="134.4" cy="255.0" r="1.69" fill="#fff" stroke="#222" stroke-width="0.75"/><circle cx="137.0" cy="254.9" r="1.69" fill="#fff" stroke="#222" stroke-width="0.75"/><circle cx="140.0" cy="254.7" r="1.69" fill="#fff" stroke="#222" stroke-width="0.75"/><circle cx="142.9" cy="254.0" r="1.69" fill="#fff" stroke="#222" stroke-width="0.75"/><circle cx="145.6" cy="252.8" r="1.69" fill="#fff" stroke="#222" stroke-width="0.75"/><circle cx="148.7" cy="251.9" r="1.69" fill="#fff" stroke="#222" stroke-width="0.75"/><circle cx="151.4" cy="250.3" r="1.69" fill="#fff" stroke="#222" stroke-width="0.75"/><circle cx="154.2" cy="249.2" r="1.69" fill="#fff" stroke="#222" stroke-width="0.75"/><circle cx="156.9" cy="249.7" r="1.69" fill="#fff" stroke="#222" stroke-width="0.75"/><polygon points="41.1,303.7 44.9,303.7 43.0,300.5" fill="#fff" stroke="#888" stroke-width="0.8"/><polygon points="44.1,301.9 47.8,301.9 45.9,298.7" fill="#fff" stroke="#888" stroke-width="0.8"/><polygon points="46.9,300.3 50.7,300.3 48.8,297.1" fill="#fff" stroke="#888" stroke-width="0.8"/><polygon points="49.8,296.3 53.6,296.3 51.7,293.1" fill="#fff" stroke="#888" stroke-width="0.8"/><polygon points="52.6,292.5 56.4,292.5 54.5,289.3" fill="#fff" stroke="#888" stroke-width="0.8"/><polygon points="55.4,289.5 59.2,289.5 57.3,286.3" fill="#fff" stroke="#888" stroke-width="0.8"/><polygon points="58.5,285.5 62.2,285.5 60.4,282.4" fill="#fff" stroke="#888" stroke-width="0.8"/><polygon points="61.1,284.0 64.9,284.0 63.0,280.8" fill="#fff" stroke="#888" stroke-width="0.8"/><polygon points="64.0,281.2 67.8,281.2 65.9,278.0" fill="#fff" stroke="#888" stroke-width="0.8"/><polygon points="66.8,279.2 70.5,279.2 68.6,276.0" fill="#fff" stroke="#888" stroke-width="0.8"/><polygon points="69.6,276.0 73.4,276.0 71.5,272.8" fill="#fff" stroke="#888" stroke-width="0.8"/><polygon points="72.4,274.8 76.2,274.8 74.3,271.6" fill="#fff" stroke="#888" stroke-width="0.8"/><polygon points="75.3,272.1 79.0,272.1 77.2,268.9" fill="#fff" stroke="#888" stroke-width="0.8"/><polygon points="78.1,269.5 81.9,269.5 80.0,266.4" fill="#fff" stroke="#888" stroke-width="0.8"/><polygon points="81.0,267.6 84.7,267.6 82.9,264.4" fill="#fff" stroke="#888" stroke-width="0.8"/><polygon points="83.8,264.9 87.6,264.9 85.7,261.7" fill="#fff" stroke="#888" stroke-width="0.8"/><polygon points="86.8,262.8 90.6,262.8 88.7,259.6" fill="#fff" stroke="#888" stroke-width="0.8"/><polygon points="89.5,258.8 93.2,258.8 91.4,255.6" fill="#fff" stroke="#888" stroke-width="0.8"/><polygon points="92.5,255.9 96.2,255.9 94.4,252.7" fill="#fff" stroke="#888" stroke-width="0.8"/><polygon points="95.2,253.9 98.9,253.9 97.1,250.8" fill="#fff" stroke="#888" stroke-width="0.8"/><polygon points="98.2,251.3 101.9,251.3 100.1,248.1" fill="#fff" stroke="#888" stroke-width="0.8"/><polygon points="101.3,248.8 105.0,248.8 103.1,245.7" fill="#fff" stroke="#888" stroke-width="0.8"/><polygon points="103.8,247.2 107.5,247.2 105.6,244.0" fill="#fff" stroke="#888" stroke-width="0.8"/><polygon points="106.6,245.4 110.4,245.4 108.5,242.2" fill="#fff" stroke="#888" stroke-width="0.8"/><polygon points="109.6,243.3 113.3,243.3 111.4,240.1" fill="#fff" stroke="#888" stroke-width="0.8"/><polygon points="112.3,240.2 116.0,240.2 114.2,237.0" fill="#fff" stroke="#888" stroke-width="0.8"/><polygon points="115.2,240.0 119.0,240.0 117.1,236.8" fill="#fff" stroke="#888" stroke-width="0.8"/><polygon points="118.2,239.1 121.9,239.1 120.0,235.9" fill="#fff" stroke="#888" stroke-width="0.8"/><polygon points="121.0,238.6 124.7,238.6 122.8,235.4" fill="#fff" stroke="#888" stroke-width="0.8"/><polygon points="123.8,237.3 127.5,237.3 125.7,234.1" fill="#fff" stroke="#888" stroke-width="0.8"/><polygon points="126.8,237.8 130.5,237.8 128.7,234.6" fill="#fff" stroke="#888" stroke-width="0.8"/><polygon points="129.4,236.8 133.2,236.8 131.3,233.7" fill="#fff" stroke="#888" stroke-width="0.8"/><polygon points="132.6,234.7 136.4,234.7 134.5,231.5" fill="#fff" stroke="#888" stroke-width="0.8"/><polygon points="135.1,230.0 138.8,230.0 137.0,226.8" fill="#fff" stroke="#888" stroke-width="0.8"/><polygon points="138.0,225.6 141.7,225.6 139.8,222.4" fill="#fff" stroke="#888" stroke-width="0.8"/><polygon points="140.8,224.0 144.5,224.0 142.7,220.9" fill="#fff" stroke="#888" stroke-width="0.8"/><polygon points="143.9,222.2 147.6,222.2 145.8,219.0" fill="#fff" stroke="#888" stroke-width="0.8"/><polygon points="146.6,221.7 150.3,221.7 148.4,218.5" fill="#fff" stroke="#888" stroke-width="0.8"/><circle cx="43.1" cy="302.2" r="1.62" fill="#000"/><circle cx="46.1" cy="299.1" r="1.62" fill="#000"/><circle cx="48.6" cy="297.3" r="1.62" fill="#000"/><circle cx="51.7" cy="293.3" r="1.62" fill="#000"/><circle cx="54.3" cy="290.7" r="1.62" fill="#000"/><circle cx="57.5" cy="287.1" r="1.62" fill="#000"/><circle cx="60.2" cy="283.4" r="1.62" fill="#000"/><circle cx="63.1" cy="280.7" r="1.62" fill="#000"/><circle cx="65.8" cy="279.3" r="1.62" fill="#000"/><circle cx="68.8" cy="276.2" r="1.62" fill="#000"/><circle cx="71.6" cy="273.9" r="1.62" fill="#000"/><circle cx="74.4" cy="271.4" r="1.62" fill="#000"/><circle cx="77.2" cy="267.3" r="1.62" fill="#000"/><circle cx="80.1" cy="264.9" r="1.62" fill="#000"/><circle cx="82.9" cy="261.4" r="1.62" fill="#000"/><circle cx="85.9" cy="259.6" r="1.62" fill="#000"/><circle cx="88.7" cy="257.3" r="1.62" fill="#000"/><circle cx="91.4" cy="254.1" r="1.62" fill="#000"/><circle cx="94.2" cy="251.1" r="1.62" fill="#000"/><circle cx="97.4" cy="248.4" r="1.62" fill="#000"/><circle cx="99.9" cy="246.3" r="1.62" fill="#000"/><circle cx="103.1" cy="243.6" r="1.62" fill="#000"/><circle cx="106.0" cy="241.9" r="1.62" fill="#000"/><circle cx="108.6" cy="239.4" r="1.62" fill="#000"/><circle cx="111.6" cy="237.0" r="1.62" fill="#000"/><circle cx="114.3" cy="235.2" r="1.62" fill="#000"/><circle cx="117.2" cy="233.7" r="1.62" fill="#000"/><circle cx="119.9" cy="232.6" r="1.62" fill="#000"/><circle cx="122.7" cy="230.4" r="1.62" fill="#000"/><circle cx="125.8" cy="228.8" r="1.62" fill="#000"/><circle cx="128.4" cy="227.9" r="1.62" fill="#000"/><circle cx="131.5" cy="226.6" r="1.62" fill="#000"/><circle cx="134.1" cy="224.5" r="1.62" fill="#000"/><circle cx="137.3" cy="222.7" r="1.62" fill="#000"/><circle cx="140.0" cy="222.1" r="1.62" fill="#000"/><circle cx="143.0" cy="222.4" r="1.62" fill="#000"/><circle cx="145.8" cy="222.3" r="1.62" fill="#000"/><circle cx="148.4" cy="218.4" r="1.62" fill="#000"/><circle cx="151.2" cy="214.4" r="1.62" fill="#000"/><circle cx="154.1" cy="214.9" r="1.62" fill="#000"/><circle cx="33.5" cy="319.8" r="1.00" fill="#fff" stroke="#222" stroke-width="0.75"/><circle cx="35.5" cy="319.8" r="1.00" fill="#fff" stroke="#222" stroke-width="0.75"/><circle cx="37.5" cy="319.8" r="1.00" fill="#fff" stroke="#222" stroke-width="0.75"/><circle cx="39.5" cy="319.8" r="1.00" fill="#fff" stroke="#222" stroke-width="0.75"/><text x="182.4" y="186.9" font-size="11.5" text-anchor="start" font-weight="bold" fill="#000"  style="">E</text><line x1="209.9" y1="195.5" x2="209.9" y2="314.6" stroke="#4a4a4a" stroke-width="1.8"/><line x1="209.9" y1="316.5" x2="209.9" y2="321.5" stroke="#4a4a4a" stroke-width="1.8"/><line x1="209" y1="320.7" x2="338.4" y2="320.7" stroke="#4a4a4a" stroke-width="1.8"/><line x1="206" y1="322" x2="215" y2="309.4" stroke="#bbb" stroke-width="0.7"/><line x1="208.4" y1="311.5" x2="209.8" y2="311.5" stroke="#111" stroke-width="0.8"/><text x="205" y="314.0" font-size="7" text-anchor="end" font-weight="normal" fill="#444"  style="">50</text><line x1="208.4" y1="282.625" x2="209.8" y2="282.625" stroke="#111" stroke-width="0.8"/><text x="205" y="285.125" font-size="7" text-anchor="end" font-weight="normal" fill="#444"  style="">100</text><line x1="208.4" y1="253.75" x2="209.8" y2="253.75" stroke="#111" stroke-width="0.8"/><text x="205" y="256.25" font-size="7" text-anchor="end" font-weight="normal" fill="#444"  style="">150</text><line x1="208.4" y1="224.875" x2="209.8" y2="224.875" stroke="#111" stroke-width="0.8"/><text x="205" y="227.375" font-size="7" text-anchor="end" font-weight="normal" fill="#444"  style="">200</text><line x1="208.4" y1="196.0" x2="209.8" y2="196.0" stroke="#111" stroke-width="0.8"/><text x="205" y="198.5" font-size="7" text-anchor="end" font-weight="normal" fill="#444"  style="">250</text><text x="205" y="323.3" font-size="7" text-anchor="end" font-weight="normal" fill="#444"  style="">0</text><line x1="218.1" y1="320.6" x2="218.1" y2="322.6" stroke="#111" stroke-width="0.8"/><text x="218.1" y="332" font-size="7" text-anchor="middle" font-weight="normal" fill="#444"  style="">0</text><line x1="252.2" y1="320.6" x2="252.2" y2="322.6" stroke="#111" stroke-width="0.8"/><text x="252.2" y="332" font-size="7" text-anchor="middle" font-weight="normal" fill="#444"  style="">2</text><line x1="286.3" y1="320.6" x2="286.3" y2="322.6" stroke="#111" stroke-width="0.8"/><text x="286.3" y="332" font-size="7" text-anchor="middle" font-weight="normal" fill="#444"  style="">4</text><line x1="320.4" y1="320.6" x2="320.4" y2="322.6" stroke="#111" stroke-width="0.8"/><text x="320.4" y="332" font-size="7" text-anchor="middle" font-weight="normal" fill="#444"  style="">6</text><text x="252.7" y="342.2" font-size="8" text-anchor="start" font-weight="bold" fill="#111"  style="">Time (min)</text><text x="297.6" y="206.1" font-size="8.1" text-anchor="start" font-weight="bold" fill="#111" textLength="21.2" lengthAdjust="spacingAndGlyphs" style="">iTHP-1</text><circle cx="216.0" cy="198.9" r="1.30" fill="#000"/><text x="227.8" y="201" font-size="7.2" text-anchor="start" font-weight="normal" fill="#222"  style="">Basal</text><circle cx="216.0" cy="207.6" r="1.20" fill="#fff" stroke="#777" stroke-width="0.75"/><text x="227.8" y="210.2" font-size="7.2" text-anchor="start" font-weight="normal" fill="#222"  style="">P2X7-ED 13</text><polygon points="214.3,215.9 217.7,215.9 216.0,218.8" fill="#000"/><text x="227.8" y="219.7" font-size="7.2" text-anchor="start" font-weight="normal" fill="#222"  style="">P2X7-ED 26</text><polygon points="214.3,226.9 217.7,226.9 216.0,224.0" fill="#fff" stroke="#888" stroke-width="0.8"/><text x="227.8" y="228.3" font-size="7.2" text-anchor="start" font-weight="normal" fill="#222"  style="">P2X7-ED 52 (boiled)</text><rect x="214.8" y="233.2" width="2.4" height="2.4" fill="#000"/><text x="227.8" y="237.3" font-size="7.2" text-anchor="start" font-weight="normal" fill="#222"  style="">CytD</text><rect x="219.5" y="299.4" width="2.6" height="2.6" fill="#000"/><rect x="222.3" y="299.9" width="2.6" height="2.6" fill="#000"/><rect x="224.9" y="297.8" width="2.6" height="2.6" fill="#000"/><rect x="227.9" y="297.5" width="2.6" height="2.6" fill="#000"/><rect x="230.7" y="297.1" width="2.6" height="2.6" fill="#000"/><rect x="233.6" y="296.2" width="2.6" height="2.6" fill="#000"/><rect x="236.4" y="295.3" width="2.6" height="2.6" fill="#000"/><rect x="239.0" y="294.9" width="2.6" height="2.6" fill="#000"/><rect x="242.0" y="294.7" width="2.6" height="2.6" fill="#000"/><rect x="244.7" y="294.2" width="2.6" height="2.6" fill="#000"/><rect x="247.7" y="293.6" width="2.6" height="2.6" fill="#000"/><rect x="250.4" y="293.1" width="2.6" height="2.6" fill="#000"/><rect x="253.4" y="292.4" width="2.6" height="2.6" fill="#000"/><rect x="256.2" y="291.8" width="2.6" height="2.6" fill="#000"/><rect x="259.0" y="291.8" width="2.6" height="2.6" fill="#000"/><rect x="261.9" y="291.4" width="2.6" height="2.6" fill="#000"/><rect x="264.7" y="290.9" width="2.6" height="2.6" fill="#000"/><rect x="267.5" y="291.1" width="2.6" height="2.6" fill="#000"/><rect x="270.2" y="290.6" width="2.6" height="2.6" fill="#000"/><rect x="273.1" y="290.4" width="2.6" height="2.6" fill="#000"/><rect x="276.2" y="290.8" width="2.6" height="2.6" fill="#000"/><rect x="279.1" y="290.7" width="2.6" height="2.6" fill="#000"/><rect x="281.9" y="290.5" width="2.6" height="2.6" fill="#000"/><rect x="284.6" y="290.4" width="2.6" height="2.6" fill="#000"/><rect x="287.6" y="290.6" width="2.6" height="2.6" fill="#000"/><rect x="290.3" y="290.6" width="2.6" height="2.6" fill="#000"/><rect x="293.1" y="290.5" width="2.6" height="2.6" fill="#000"/><rect x="296.1" y="290.6" width="2.6" height="2.6" fill="#000"/><rect x="299.0" y="289.9" width="2.6" height="2.6" fill="#000"/><rect x="301.5" y="289.7" width="2.6" height="2.6" fill="#000"/><rect x="304.4" y="289.8" width="2.6" height="2.6" fill="#000"/><rect x="307.4" y="289.4" width="2.6" height="2.6" fill="#000"/><rect x="310.3" y="288.8" width="2.6" height="2.6" fill="#000"/><circle cx="221.3" cy="295.3" r="1.32" fill="#fff" stroke="#777" stroke-width="0.75"/><circle cx="224.2" cy="293.3" r="1.32" fill="#fff" stroke="#777" stroke-width="0.75"/><circle cx="226.9" cy="291.6" r="1.32" fill="#fff" stroke="#777" stroke-width="0.75"/><circle cx="229.7" cy="289.1" r="1.32" fill="#fff" stroke="#777" stroke-width="0.75"/><circle cx="232.5" cy="287.3" r="1.32" fill="#fff" stroke="#777" stroke-width="0.75"/><circle cx="235.6" cy="285.2" r="1.32" fill="#fff" stroke="#777" stroke-width="0.75"/><circle cx="238.5" cy="284.0" r="1.32" fill="#fff" stroke="#777" stroke-width="0.75"/><circle cx="241.3" cy="282.8" r="1.32" fill="#fff" stroke="#777" stroke-width="0.75"/><circle cx="243.9" cy="280.5" r="1.32" fill="#fff" stroke="#777" stroke-width="0.75"/><circle cx="246.8" cy="278.6" r="1.32" fill="#fff" stroke="#777" stroke-width="0.75"/><circle cx="249.7" cy="277.1" r="1.32" fill="#fff" stroke="#777" stroke-width="0.75"/><circle cx="252.7" cy="275.4" r="1.32" fill="#fff" stroke="#777" stroke-width="0.75"/><circle cx="255.4" cy="273.7" r="1.32" fill="#fff" stroke="#777" stroke-width="0.75"/><circle cx="258.3" cy="272.7" r="1.32" fill="#fff" stroke="#777" stroke-width="0.75"/><circle cx="261.0" cy="271.0" r="1.32" fill="#fff" stroke="#777" stroke-width="0.75"/><circle cx="263.7" cy="270.1" r="1.32" fill="#fff" stroke="#777" stroke-width="0.75"/><circle cx="266.8" cy="268.4" r="1.32" fill="#fff" stroke="#777" stroke-width="0.75"/><circle cx="269.4" cy="267.5" r="1.32" fill="#fff" stroke="#777" stroke-width="0.75"/><circle cx="272.3" cy="266.3" r="1.32" fill="#fff" stroke="#777" stroke-width="0.75"/><circle cx="275.2" cy="266.2" r="1.32" fill="#fff" stroke="#777" stroke-width="0.75"/><circle cx="278.2" cy="265.5" r="1.32" fill="#fff" stroke="#777" stroke-width="0.75"/><circle cx="280.8" cy="264.5" r="1.32" fill="#fff" stroke="#777" stroke-width="0.75"/><circle cx="283.6" cy="262.9" r="1.32" fill="#fff" stroke="#777" stroke-width="0.75"/><circle cx="286.6" cy="262.2" r="1.32" fill="#fff" stroke="#777" stroke-width="0.75"/><circle cx="289.5" cy="261.2" r="1.32" fill="#fff" stroke="#777" stroke-width="0.75"/><circle cx="292.2" cy="260.5" r="1.32" fill="#fff" stroke="#777" stroke-width="0.75"/><circle cx="295.3" cy="259.8" r="1.32" fill="#fff" stroke="#777" stroke-width="0.75"/><circle cx="297.9" cy="259.3" r="1.32" fill="#fff" stroke="#777" stroke-width="0.75"/><circle cx="300.8" cy="258.4" r="1.32" fill="#fff" stroke="#777" stroke-width="0.75"/><circle cx="303.7" cy="258.2" r="1.32" fill="#fff" stroke="#777" stroke-width="0.75"/><circle cx="306.6" cy="257.8" r="1.32" fill="#fff" stroke="#777" stroke-width="0.75"/><circle cx="309.2" cy="257.0" r="1.32" fill="#fff" stroke="#777" stroke-width="0.75"/><circle cx="312.3" cy="257.2" r="1.32" fill="#fff" stroke="#777" stroke-width="0.75"/><circle cx="315.2" cy="256.7" r="1.32" fill="#fff" stroke="#777" stroke-width="0.75"/><circle cx="317.8" cy="256.8" r="1.32" fill="#fff" stroke="#777" stroke-width="0.75"/><circle cx="320.5" cy="257.1" r="1.32" fill="#fff" stroke="#777" stroke-width="0.75"/><polygon points="219.7,292.0 223.2,292.0 221.5,295.0" fill="#000"/><polygon points="222.3,290.8 225.9,290.8 224.1,293.8" fill="#000"/><polygon points="225.4,289.5 228.9,289.5 227.2,292.5" fill="#000"/><polygon points="228.1,288.5 231.6,288.5 229.9,291.5" fill="#000"/><polygon points="230.9,287.1 234.5,287.1 232.7,290.1" fill="#000"/><polygon points="233.6,285.7 237.2,285.7 235.4,288.8" fill="#000"/><polygon points="236.8,285.1 240.3,285.1 238.5,288.1" fill="#000"/><polygon points="239.4,283.4 242.9,283.4 241.1,286.4" fill="#000"/><polygon points="242.2,281.5 245.8,281.5 244.0,284.5" fill="#000"/><polygon points="245.1,280.1 248.6,280.1 246.8,283.1" fill="#000"/><polygon points="247.8,278.3 251.3,278.3 249.6,281.4" fill="#000"/><polygon points="250.8,276.0 254.3,276.0 252.5,279.1" fill="#000"/><polygon points="253.7,274.6 257.3,274.6 255.5,277.6" fill="#000"/><polygon points="256.6,273.3 260.2,273.3 258.4,276.3" fill="#000"/><polygon points="259.1,271.3 262.7,271.3 260.9,274.3" fill="#000"/><polygon points="262.1,269.9 265.7,269.9 263.9,272.9" fill="#000"/><polygon points="264.9,268.5 268.4,268.5 266.7,271.5" fill="#000"/><polygon points="268.0,267.4 271.5,267.4 269.7,270.4" fill="#000"/><polygon points="270.7,265.6 274.3,265.6 272.5,268.6" fill="#000"/><polygon points="273.5,264.4 277.1,264.4 275.3,267.4" fill="#000"/><polygon points="276.5,263.8 280.1,263.8 278.3,266.8" fill="#000"/><polygon points="279.0,262.5 282.6,262.5 280.8,265.6" fill="#000"/><polygon points="281.9,261.7 285.4,261.7 283.7,264.7" fill="#000"/><polygon points="285.0,260.3 288.5,260.3 286.8,263.4" fill="#000"/><polygon points="287.6,259.6 291.2,259.6 289.4,262.6" fill="#000"/><polygon points="290.7,259.4 294.3,259.4 292.5,262.4" fill="#000"/><polygon points="293.3,258.1 296.9,258.1 295.1,261.2" fill="#000"/><polygon points="296.0,257.4 299.6,257.4 297.8,260.4" fill="#000"/><polygon points="299.2,256.7 302.8,256.7 301.0,259.7" fill="#000"/><polygon points="301.8,255.8 305.3,255.8 303.6,258.9" fill="#000"/><polygon points="304.5,255.2 308.1,255.2 306.3,258.2" fill="#000"/><polygon points="307.7,255.1 311.2,255.1 309.4,258.2" fill="#000"/><polygon points="310.4,255.0 314.0,255.0 312.2,258.0" fill="#000"/><polygon points="313.0,254.6 316.6,254.6 314.8,257.7" fill="#000"/><polygon points="316.3,253.5 319.8,253.5 318.0,256.6" fill="#000"/><polygon points="318.8,252.1 322.4,252.1 320.6,255.1" fill="#000"/><polygon points="219.4,290.3 223.0,290.3 221.2,287.3" fill="#fff" stroke="#888" stroke-width="0.8"/><polygon points="222.2,290.4 225.7,290.4 224.0,287.4" fill="#fff" stroke="#888" stroke-width="0.8"/><polygon points="225.4,290.1 228.9,290.1 227.2,287.0" fill="#fff" stroke="#888" stroke-width="0.8"/><polygon points="228.2,287.2 231.8,287.2 230.0,284.2" fill="#fff" stroke="#888" stroke-width="0.8"/><polygon points="231.1,284.4 234.6,284.4 232.9,281.4" fill="#fff" stroke="#888" stroke-width="0.8"/><polygon points="233.8,281.9 237.3,281.9 235.6,278.9" fill="#fff" stroke="#888" stroke-width="0.8"/><polygon points="236.4,277.8 239.9,277.8 238.2,274.8" fill="#fff" stroke="#888" stroke-width="0.8"/><polygon points="239.3,275.5 242.8,275.5 241.1,272.4" fill="#fff" stroke="#888" stroke-width="0.8"/><polygon points="242.4,271.6 245.9,271.6 244.1,268.5" fill="#fff" stroke="#888" stroke-width="0.8"/><polygon points="244.9,269.9 248.5,269.9 246.7,266.9" fill="#fff" stroke="#888" stroke-width="0.8"/><polygon points="247.9,267.0 251.5,267.0 249.7,264.0" fill="#fff" stroke="#888" stroke-width="0.8"/><polygon points="250.6,263.4 254.2,263.4 252.4,260.4" fill="#fff" stroke="#888" stroke-width="0.8"/><polygon points="253.8,261.9 257.4,261.9 255.6,258.9" fill="#fff" stroke="#888" stroke-width="0.8"/><polygon points="256.3,260.3 259.9,260.3 258.1,257.3" fill="#fff" stroke="#888" stroke-width="0.8"/><polygon points="259.1,258.2 262.7,258.2 260.9,255.2" fill="#fff" stroke="#888" stroke-width="0.8"/><polygon points="262.3,255.8 265.9,255.8 264.1,252.7" fill="#fff" stroke="#888" stroke-width="0.8"/><polygon points="264.8,252.8 268.4,252.8 266.6,249.8" fill="#fff" stroke="#888" stroke-width="0.8"/><polygon points="268.0,252.6 271.6,252.6 269.8,249.5" fill="#fff" stroke="#888" stroke-width="0.8"/><polygon points="270.5,251.3 274.1,251.3 272.3,248.2" fill="#fff" stroke="#888" stroke-width="0.8"/><polygon points="273.7,249.9 277.2,249.9 275.4,246.8" fill="#fff" stroke="#888" stroke-width="0.8"/><polygon points="276.4,249.3 280.0,249.3 278.2,246.3" fill="#fff" stroke="#888" stroke-width="0.8"/><polygon points="279.0,247.8 282.5,247.8 280.7,244.7" fill="#fff" stroke="#888" stroke-width="0.8"/><polygon points="282.1,246.1 285.7,246.1 283.9,243.1" fill="#fff" stroke="#888" stroke-width="0.8"/><polygon points="284.9,245.2 288.4,245.2 286.6,242.2" fill="#fff" stroke="#888" stroke-width="0.8"/><polygon points="287.7,243.9 291.3,243.9 289.5,240.9" fill="#fff" stroke="#888" stroke-width="0.8"/><polygon points="290.5,242.7 294.1,242.7 292.3,239.6" fill="#fff" stroke="#888" stroke-width="0.8"/><polygon points="293.2,241.7 296.8,241.7 295.0,238.7" fill="#fff" stroke="#888" stroke-width="0.8"/><polygon points="296.4,240.4 299.9,240.4 298.2,237.4" fill="#fff" stroke="#888" stroke-width="0.8"/><polygon points="298.9,239.6 302.5,239.6 300.7,236.5" fill="#fff" stroke="#888" stroke-width="0.8"/><polygon points="302.0,238.6 305.6,238.6 303.8,235.6" fill="#fff" stroke="#888" stroke-width="0.8"/><polygon points="304.6,236.9 308.2,236.9 306.4,233.8" fill="#fff" stroke="#888" stroke-width="0.8"/><polygon points="307.4,235.5 310.9,235.5 309.2,232.5" fill="#fff" stroke="#888" stroke-width="0.8"/><polygon points="310.4,234.8 313.9,234.8 312.1,231.8" fill="#fff" stroke="#888" stroke-width="0.8"/><polygon points="313.1,234.0 316.7,234.0 314.9,231.0" fill="#fff" stroke="#888" stroke-width="0.8"/><polygon points="316.2,232.6 319.8,232.6 318.0,229.6" fill="#fff" stroke="#888" stroke-width="0.8"/><polygon points="319.1,232.5 322.7,232.5 320.9,229.5" fill="#fff" stroke="#888" stroke-width="0.8"/><polygon points="321.8,231.7 325.3,231.7 323.6,228.7" fill="#fff" stroke="#888" stroke-width="0.8"/><polygon points="324.4,231.1 328.0,231.1 326.2,228.0" fill="#fff" stroke="#888" stroke-width="0.8"/><circle cx="220.6" cy="285.2" r="1.62" fill="#000"/><circle cx="223.5" cy="285.7" r="1.62" fill="#000"/><circle cx="226.3" cy="284.6" r="1.62" fill="#000"/><circle cx="229.0" cy="279.1" r="1.62" fill="#000"/><circle cx="232.0" cy="275.1" r="1.62" fill="#000"/><circle cx="235.0" cy="271.2" r="1.62" fill="#000"/><circle cx="237.8" cy="268.3" r="1.62" fill="#000"/><circle cx="240.7" cy="265.3" r="1.62" fill="#000"/><circle cx="243.2" cy="263.0" r="1.62" fill="#000"/><circle cx="246.3" cy="259.7" r="1.62" fill="#000"/><circle cx="249.1" cy="257.3" r="1.62" fill="#000"/><circle cx="252.0" cy="253.9" r="1.62" fill="#000"/><circle cx="254.7" cy="252.9" r="1.62" fill="#000"/><circle cx="257.7" cy="249.2" r="1.62" fill="#000"/><circle cx="260.4" cy="248.1" r="1.62" fill="#000"/><circle cx="263.2" cy="245.6" r="1.62" fill="#000"/><circle cx="266.0" cy="243.3" r="1.62" fill="#000"/><circle cx="269.0" cy="242.3" r="1.62" fill="#000"/><circle cx="271.9" cy="240.1" r="1.62" fill="#000"/><circle cx="274.8" cy="239.5" r="1.62" fill="#000"/><circle cx="277.3" cy="237.6" r="1.62" fill="#000"/><circle cx="280.4" cy="237.9" r="1.62" fill="#000"/><circle cx="283.2" cy="236.2" r="1.62" fill="#000"/><circle cx="285.9" cy="234.1" r="1.62" fill="#000"/><circle cx="288.8" cy="233.8" r="1.62" fill="#000"/><circle cx="291.5" cy="231.7" r="1.62" fill="#000"/><circle cx="294.6" cy="230.9" r="1.62" fill="#000"/><circle cx="297.1" cy="229.8" r="1.62" fill="#000"/><circle cx="300.1" cy="228.4" r="1.62" fill="#000"/><circle cx="302.8" cy="227.4" r="1.62" fill="#000"/><circle cx="305.7" cy="225.7" r="1.62" fill="#000"/><circle cx="308.5" cy="224.9" r="1.62" fill="#000"/><circle cx="311.6" cy="224.4" r="1.62" fill="#000"/><circle cx="314.4" cy="223.0" r="1.62" fill="#000"/><circle cx="317.3" cy="222.0" r="1.62" fill="#000"/><circle cx="320.0" cy="223.0" r="1.62" fill="#000"/><circle cx="322.7" cy="221.4" r="1.62" fill="#000"/><circle cx="325.6" cy="221.6" r="1.62" fill="#000"/><circle cx="212.6" cy="319.5" r="1.04" fill="#000"/><circle cx="215.2" cy="319.3" r="0.96" fill="#fff" stroke="#777" stroke-width="0.75"/><text x="357.2" y="186.9" font-size="11.5" text-anchor="start" font-weight="bold" fill="#000"  style="">F</text><line x1="388.5" y1="191.7" x2="512" y2="191.7" stroke="#666" stroke-width="0.9"/><line x1="512" y1="191.7" x2="512" y2="316" stroke="#666" stroke-width="0.9"/><line x1="386.7" y1="316.0" x2="388.5" y2="316.0" stroke="#666" stroke-width="0.7"/><text x="383.2" y="318.3" font-size="6.5" text-anchor="end" font-weight="normal" fill="#555"  style="">0</text><line x1="386.7" y1="291.12" x2="388.5" y2="291.12" stroke="#666" stroke-width="0.7"/><text x="383.2" y="293.42" font-size="6.5" text-anchor="end" font-weight="normal" fill="#555"  style="">20</text><line x1="386.7" y1="266.24" x2="388.5" y2="266.24" stroke="#666" stroke-width="0.7"/><text x="383.2" y="268.54" font-size="6.5" text-anchor="end" font-weight="normal" fill="#555"  style="">40</text><line x1="386.7" y1="241.36" x2="388.5" y2="241.36" stroke="#666" stroke-width="0.7"/><text x="383.2" y="243.66000000000003" font-size="6.5" text-anchor="end" font-weight="normal" fill="#555"  style="">60</text><line x1="386.7" y1="216.48000000000002" x2="388.5" y2="216.48000000000002" stroke="#666" stroke-width="0.7"/><text x="383.2" y="218.78000000000003" font-size="6.5" text-anchor="end" font-weight="normal" fill="#555"  style="">80</text><line x1="386.7" y1="191.6" x2="388.5" y2="191.6" stroke="#666" stroke-width="0.7"/><text x="383.2" y="193.9" font-size="6.5" text-anchor="end" font-weight="normal" fill="#555"  style="">100</text><text x="388.0" y="329.5" font-size="6.2" fill="#444" text-anchor="middle">10</text><text x="391.3" y="325" font-size="5" fill="#444">0</text><text x="419.0" y="329.5" font-size="6.2" fill="#444" text-anchor="middle">10</text><text x="422.3" y="325" font-size="5" fill="#444">1</text><text x="450.0" y="329.5" font-size="6.2" fill="#444" text-anchor="middle">10</text><text x="453.3" y="325" font-size="5" fill="#444">2</text><text x="481.0" y="329.5" font-size="6.2" fill="#444" text-anchor="middle">10</text><text x="484.3" y="325" font-size="5" fill="#444">3</text><line x1="397.8319298655834" y1="316" x2="397.8319298655834" y2="317.4" stroke="#666" stroke-width="0.5"/><line x1="403.2907588963095" y1="316" x2="403.2907588963095" y2="317.4" stroke="#666" stroke-width="0.5"/><line x1="407.16385973116684" y1="316" x2="407.16385973116684" y2="317.4" stroke="#666" stroke-width="0.5"/><line x1="410.1680701344166" y1="316" x2="410.1680701344166" y2="317.4" stroke="#666" stroke-width="0.5"/><line x1="412.62268876189296" y1="316" x2="412.62268876189296" y2="317.4" stroke="#666" stroke-width="0.5"/><line x1="414.698039240442" y1="316" x2="414.698039240442" y2="317.4" stroke="#666" stroke-width="0.5"/><line x1="416.4957895967502" y1="316" x2="416.4957895967502" y2="317.4" stroke="#666" stroke-width="0.5"/><line x1="418.0815177926191" y1="316" x2="418.0815177926191" y2="317.4" stroke="#666" stroke-width="0.5"/><line x1="388.5" y1="316" x2="388.5" y2="318.4" stroke="#666" stroke-width="0.7"/><line x1="428.83192986558345" y1="316" x2="428.83192986558345" y2="317.4" stroke="#666" stroke-width="0.5"/><line x1="434.2907588963095" y1="316" x2="434.2907588963095" y2="317.4" stroke="#666" stroke-width="0.5"/><line x1="438.16385973116684" y1="316" x2="438.16385973116684" y2="317.4" stroke="#666" stroke-width="0.5"/><line x1="441.16807013441655" y1="316" x2="441.16807013441655" y2="317.4" stroke="#666" stroke-width="0.5"/><line x1="443.62268876189296" y1="316" x2="443.62268876189296" y2="317.4" stroke="#666" stroke-width="0.5"/><line x1="445.698039240442" y1="316" x2="445.698039240442" y2="317.4" stroke="#666" stroke-width="0.5"/><line x1="447.4957895967502" y1="316" x2="447.4957895967502" y2="317.4" stroke="#666" stroke-width="0.5"/><line x1="449.0815177926191" y1="316" x2="449.0815177926191" y2="317.4" stroke="#666" stroke-width="0.5"/><line x1="419.5" y1="316" x2="419.5" y2="318.4" stroke="#666" stroke-width="0.7"/><line x1="459.83192986558345" y1="316" x2="459.83192986558345" y2="317.4" stroke="#666" stroke-width="0.5"/><line x1="465.2907588963095" y1="316" x2="465.2907588963095" y2="317.4" stroke="#666" stroke-width="0.5"/><line x1="469.16385973116684" y1="316" x2="469.16385973116684" y2="317.4" stroke="#666" stroke-width="0.5"/><line x1="472.16807013441655" y1="316" x2="472.16807013441655" y2="317.4" stroke="#666" stroke-width="0.5"/><line x1="474.62268876189296" y1="316" x2="474.62268876189296" y2="317.4" stroke="#666" stroke-width="0.5"/><line x1="476.698039240442" y1="316" x2="476.698039240442" y2="317.4" stroke="#666" stroke-width="0.5"/><line x1="478.4957895967502" y1="316" x2="478.4957895967502" y2="317.4" stroke="#666" stroke-width="0.5"/><line x1="480.0815177926191" y1="316" x2="480.0815177926191" y2="317.4" stroke="#666" stroke-width="0.5"/><line x1="450.5" y1="316" x2="450.5" y2="318.4" stroke="#666" stroke-width="0.7"/><line x1="490.83192986558345" y1="316" x2="490.83192986558345" y2="317.4" stroke="#666" stroke-width="0.5"/><line x1="496.2907588963095" y1="316" x2="496.2907588963095" y2="317.4" stroke="#666" stroke-width="0.5"/><line x1="500.16385973116684" y1="316" x2="500.16385973116684" y2="317.4" stroke="#666" stroke-width="0.5"/><line x1="503.16807013441655" y1="316" x2="503.16807013441655" y2="317.4" stroke="#666" stroke-width="0.5"/><line x1="505.62268876189296" y1="316" x2="505.62268876189296" y2="317.4" stroke="#666" stroke-width="0.5"/><line x1="507.698039240442" y1="316" x2="507.698039240442" y2="317.4" stroke="#666" stroke-width="0.5"/><line x1="509.4957895967502" y1="316" x2="509.4957895967502" y2="317.4" stroke="#666" stroke-width="0.5"/><line x1="511.0815177926191" y1="316" x2="511.0815177926191" y2="317.4" stroke="#666" stroke-width="0.5"/><line x1="481.5" y1="316" x2="481.5" y2="318.4" stroke="#666" stroke-width="0.7"/><text x="377.5" y="343.4" font-size="8" text-anchor="start" font-weight="bold" fill="#111" textLength="131.2" lengthAdjust="spacingAndGlyphs" style="">Fluorescence Intensity of Alexa488</text><text transform="translate(368.6,242.5) rotate(-90)" font-size="9" font-weight="bold" text-anchor="middle" fill="#111">% of Max</text><text x="388.1" y="204.6" font-size="11" fill="#111">S.<tspan font-style="italic">aureus</tspan></text><polyline points="388.5,305.0 390.2,308.4 392.0,310.0 394.0,308.0 396.7,288.0 398.5,272.0 400.2,258.0 402.0,240.0 404.0,222.0 406.5,211.5 408.3,214.0 409.5,218.0 411.0,226.0 413.1,235.2 415.1,255.4 416.9,275.0 418.1,281.2 420.0,292.4 421.2,299.8 422.4,303.5 424.3,304.8 426.8,304.2 429.3,305.4 432.4,304.8 434.9,301.1 437.3,296.1 439.2,293.0 441.1,293.6 442.9,295.5 444.8,299.2 447.3,302.9 451.0,307.3 454.7,311.0 458.4,314.1 462.1,315.3 465.0,316.0" fill="none" stroke="#8a6a28" stroke-width="1.2" stroke-linejoin="round"/><polyline points="388.5,300.0 390.0,308.0 391.9,311.0 393.2,308.0 395.4,303.0 396.7,286.0 398.5,270.0 400.2,258.5 402.0,240.0 404.0,222.0 405.0,211.0 407.0,209.0 409.0,215.1 411.0,229.2 412.0,245.3 413.1,259.4 414.0,272.0 415.0,284.3 416.9,291.1 419.3,293.0 421.2,285.5 423.7,284.3 427.4,283.9 430.5,284.9 433.0,292.4 434.9,293.0 437.3,287.4 439.2,284.3 440.4,286.8 441.7,291.1 444.2,294.9 446.6,299.8 449.7,304.2 452.2,306.0 454.7,307.9 457.8,309.7 460.3,307.9 463.5,305.5 468.6,305.1 479.9,304.6 482.5,300.3 485.9,298.6 490.2,296.9 493.3,294.7 496.3,300.3 500.0,303.3 506.0,307.0 510.1,310.5 511.5,313.0" fill="none" stroke="#48c048" stroke-width="1.2" stroke-linejoin="round"/><polyline points="389.0,306.0 392.8,306.7 395.4,306.0 397.1,303.2 399.0,285.0 401.4,264.7 403.1,245.0 405.0,231.2 407.0,219.1 409.0,217.1 411.0,220.1 412.0,223.2 414.4,235.9 416.8,251.7 418.3,260.5 419.9,262.1 421.5,259.7 423.9,255.7 426.3,251.0 427.9,249.4 429.5,248.6 431.0,252.5 432.6,260.5 434.2,256.5 435.8,248.6 437.4,237.5 438.2,231.1 439.8,235.9 441.4,231.9 443.0,237.5 444.5,235.9 446.1,232.7 447.7,240.6 450.1,258.1 451.7,259.7 452.2,258.1 454.3,260.2 456.5,262.4 459.7,265.6 461.9,267.8 464.0,270.0 466.2,266.7 468.4,257.0 470.5,254.8 472.7,258.1 474.8,263.5 477.0,265.6 479.2,262.4 481.3,259.2 483.5,255.9 485.6,250.5 487.8,252.7 490.0,249.4 492.1,254.8 494.3,255.9 496.4,261.3 498.6,270.0 501.8,281.8 505.1,289.4 508.3,294.8 511.6,299.1" fill="none" stroke="#dc3c44" stroke-width="1.2" stroke-linejoin="round"/><polyline points="388.6,265.4 388.6,316.0 389.3,305.0 392.0,309.0 395.0,306.0 398.0,290.0 400.6,262.0 403.0,232.0 405.0,216.0 406.6,212.0 408.5,220.0 411.0,235.2 412.0,229.5 415.2,251.7 417.6,264.4 419.1,267.6 420.7,266.0 423.1,259.7 425.5,256.5 427.9,258.1 430.3,258.1 431.8,261.3 434.2,258.1 436.6,248.6 439.0,242.2 441.4,239.0 443.0,242.2 444.5,240.6 446.1,243.8 448.5,251.7 450.9,258.1 454.4,262.0 456.5,270.0 458.6,272.1 461.9,267.8 464.0,271.0 467.3,264.6 469.4,268.9 471.6,272.1 474.8,264.6 477.0,267.8 479.2,271.0 482.4,262.4 485.6,250.5 487.8,252.7 490.0,249.8 492.1,254.8 494.3,256.5 496.4,262.0 498.6,270.5 501.8,282.5 505.1,290.0 508.3,296.0 511.6,301.0" fill="none" stroke="#4a78d0" stroke-width="1.2" stroke-linejoin="round"/><line x1="388.5" y1="191.7" x2="388.5" y2="316.6" stroke="#333" stroke-width="1.1"/><line x1="388" y1="316" x2="512" y2="316" stroke="#333" stroke-width="1.0"/><line x1="436" y1="196.6" x2="450.4" y2="196.6" stroke="#e03535" stroke-width="1.6"/><text x="451.6" y="200.29999999999998" font-size="8" text-anchor="start" font-weight="normal" fill="#222"  style="">Basal</text><line x1="436" y1="207.5" x2="450.4" y2="207.5" stroke="#3cdc3c" stroke-width="1.6"/><text x="451.6" y="211.2" font-size="8" text-anchor="start" font-weight="normal" fill="#222"  style="">P2X7-ED</text><line x1="436" y1="218.7" x2="450.4" y2="218.7" stroke="#2233dd" stroke-width="1.6"/><text x="451.6" y="222.39999999999998" font-size="8" text-anchor="start" font-weight="normal" fill="#222"  style="">P2X7-ED (boiled)</text><line x1="436" y1="229.8" x2="450.4" y2="229.8" stroke="#8a7a20" stroke-width="1.6"/><text x="451.6" y="233.5" font-size="8" text-anchor="start" font-weight="normal" fill="#222"  style="">CytD</text>
</svg>
</body></html>
